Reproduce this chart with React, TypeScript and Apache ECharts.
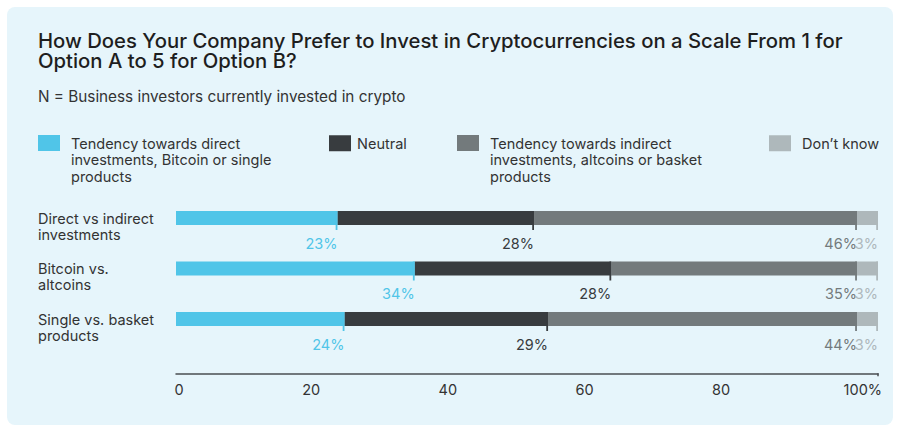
import React, { useEffect, useRef } from 'react';
import * as echarts from 'echarts';

const titleText =
  'How Does Your Company Prefer to Invest in Cryptocurrencies on a Scale From 1 for\nOption A to 5 for Option B?';
const subtitleText = 'N = Business investors currently invested in crypto';

const categories = [
  'Direct vs indirect\ninvestments',
  'Bitcoin vs.\naltcoins',
  'Single vs. basket\nproducts',
];

const seriesNames = [
  'Tendency towards direct investments, Bitcoin or single products',
  'Neutral',
  'Tendency towards indirect investments, altcoins or basket products',
  'Don’t know',
];
const legendLabels = [
  'Tendency towards direct\ninvestments, Bitcoin or single\nproducts',
  'Neutral',
  'Tendency towards indirect\ninvestments, altcoins or basket\nproducts',
  'Don’t know',
];

const direct = [23, 34, 24];
const neutral = [28, 28, 29];
const indirect = [46, 35, 44];
const dontKnow = [3, 3, 3];

const xMin = 0;
const xMax = 100;
const xStep = 20;

const colors = ['#50c5e8', '#383c3f', '#737a7c', '#aeb8bb'];
const FONT = 'Inter';

export default function App() {
  const ref = useRef<HTMLDivElement>(null);

  useEffect(() => {
    document.body.style.margin = '0';
    const chart = echarts.init(ref.current!, null, { renderer: 'svg' });
    const values = [direct, neutral, indirect, dontKnow];
    const cumulative = values.map((_, s) =>
      categories.map((__, i) => values.slice(0, s + 1).reduce((a, arr) => a + arr[i], 0))
    );

    const legendLefts = [38, 329, 457, 769];
    const legends = seriesNames.map((name, i) => {
      const multi = legendLabels[i].includes('\n');
      return {
        data: [name],
        left: legendLefts[i],
        top: multi ? 101.75 : 135,
        padding: 0,
        itemWidth: 22,
        itemHeight: 16,
        icon: 'rect',
        selectedMode: false,
        formatter: () => (multi ? '\n\n' + legendLabels[i] : legendLabels[i]),
        textStyle: {
          fontFamily: FONT,
          fontSize: 14.5,
          lineHeight: 16.5,
          color: '#333',
          padding: [0, 0, 0, i === 1 ? 1 : 6],
        },
      };
    });

    const barSeries = values.map((data, s) => ({
      type: 'bar',
      name: seriesNames[s],
      stack: 'total',
      data,
      barWidth: 14,
      xAxisIndex: 0,
      yAxisIndex: 0,
      itemStyle: { color: colors[s] },
      label: {
        show: true,
        position: ['100%', 32],
        align: 'right',
        verticalAlign: 'middle',
        formatter: '{c}%',
        color: colors[s],
        fontFamily: FONT,
        fontSize: 14.5,
      },
    }));

    const tickSeries = cumulative.map((cum, s) => ({
      type: 'custom',
      name: 'tick' + s,
      data: cum.map((v, i) => [v, i]),
      silent: true,
      z: 5,
      xAxisIndex: 0,
      yAxisIndex: 0,
      renderItem: (_params: any, api: any) => {
        const p = api.coord([api.value(0), api.value(1)]);
        return {
          type: 'rect',
          shape: { x: p[0] - 1.8, y: p[1] - 7, width: 1.8, height: 19 },
          style: { fill: colors[s] },
        };
      },
    }));

    chart.setOption({
      animation: false,
      backgroundColor: 'transparent',
      textStyle: { fontFamily: FONT },
      graphic: [
        {
          type: 'rect',
          shape: { x: 7, y: 7, width: 886, height: 418, r: 8 },
          style: { fill: '#e6f5fb' },
          z: -10,
        },
      ],
      title: [
        {
          text: titleText,
          left: 38,
          top: 30,
          padding: 0,
          textStyle: {
            fontFamily: FONT,
            fontSize: 20.3,
            fontWeight: 500,
            lineHeight: 20.4,
            color: '#1e1e1e',
          },
        },
        {
          text: subtitleText,
          left: 38,
          top: 87.5,
          padding: 0,
          textStyle: {
            fontFamily: FONT,
            fontSize: 15.3,
            fontWeight: 400,
            lineHeight: 17,
            color: '#333',
          },
        },
      ],
      legend: legends,
      grid: [
        { left: 176, right: 21, top: 192.75, bottom: 82.75, containLabel: false },
        { left: 174.5, right: 41.2, top: 192.75, bottom: 82.75, containLabel: false },
      ],
      xAxis: [
        {
          type: 'value',
          gridIndex: 0,
          min: xMin,
          max: xMax,
          interval: xStep,
          position: 'bottom',
          offset: 29,
          axisLine: { show: true, lineStyle: { color: '#4a4e52', width: 1.5 } },
          axisTick: {
            show: true,
            customValues: [xMax],
            length: 3,
            lineStyle: { color: '#4a4e52', width: 1.5 },
          },
          axisLabel: { show: false },
          splitLine: { show: false },
        },
        {
          type: 'value',
          gridIndex: 1,
          min: xMin,
          max: xMax,
          interval: xStep,
          position: 'bottom',
          offset: 29,
          axisLine: { show: false },
          axisTick: { show: false },
          splitLine: { show: false },
          axisLabel: {
            alignMinLabel: 'left',
            formatter: (v: number) => (v === xMax ? '{last|' + v + '%}' : String(v)),
            color: '#333',
            fontFamily: FONT,
            fontSize: 14.5,
            margin: 9,
            rich: {
              last: {
                color: '#333',
                fontFamily: FONT,
                fontSize: 14.5,
                padding: [0, 0, 0, 10],
              },
            },
          },
        },
      ],
      yAxis: [
        {
          type: 'category',
          gridIndex: 0,
          inverse: true,
          data: categories,
          axisLine: { show: false },
          axisTick: { show: false },
          axisLabel: {
            align: 'left',
            margin: 138,
            formatter: (v: string) => '\n' + v,
            fontFamily: FONT,
            fontSize: 14.5,
            lineHeight: 16,
            color: '#333',
          },
        },
        {
          type: 'category',
          gridIndex: 1,
          inverse: true,
          data: categories,
          show: false,
        },
      ],
      series: [...barSeries, ...tickSeries],
    });

    return () => chart.dispose();
  }, []);

  return <div ref={ref} style={{ width: 899, height: 427, background: '#fff' }} />;
}
